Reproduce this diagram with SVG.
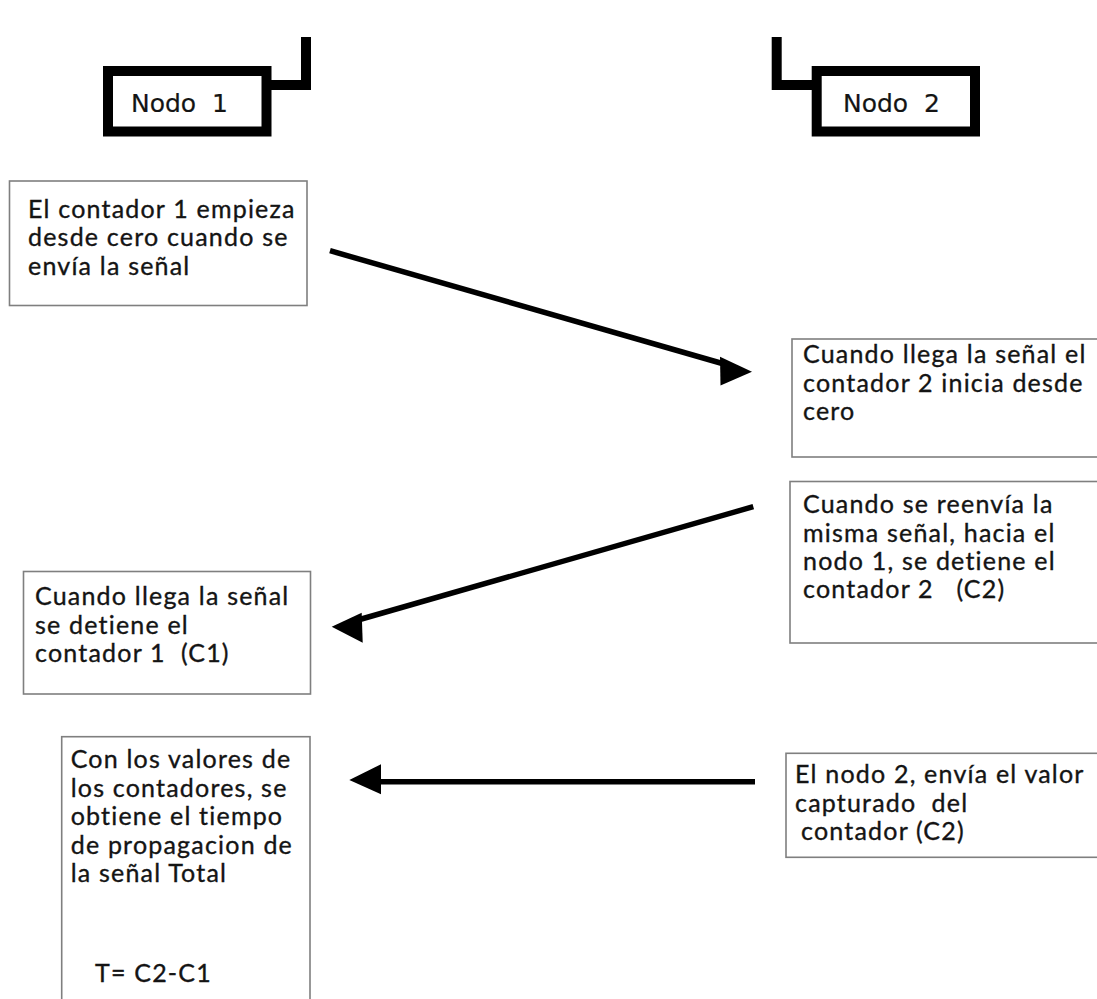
<svg xmlns="http://www.w3.org/2000/svg" width="1097" height="999" viewBox="0 0 1097 999">
  <style>
    .bg { fill: #ffffff; }
    .box { fill: #ffffff; stroke: #7f7f7f; stroke-width: 1.6; }
    .node { fill: #ffffff; stroke: #000000; stroke-width: 10; }
    .antenna { fill: none; stroke: #000000; stroke-width: 10; stroke-linejoin: miter; }
    .label { font-family: "Lato", "Open Sans", sans-serif; font-size: 25px; letter-spacing: 1.2px; fill: #141414; stroke: #141414; stroke-width: 0.35; white-space: pre; }
    .nodelabel { font-family: "DejaVu Sans", "Liberation Sans", sans-serif; font-size: 25px; fill: #141414; stroke: #141414; stroke-width: 0.2; white-space: pre; }
    .wire { fill: none; stroke: #000000; stroke-width: 5.5; stroke-linecap: butt; }
    .head { fill: #000000; stroke: none; }
  </style>
  <rect class="bg" x="0" y="0" width="1097" height="999"/>

  <!-- Nodo 1 with antenna -->
  <g id="nodo1">
    <path class="antenna" d="M 266 85 H 306 V 37"/>
    <rect class="node" x="108" y="71" width="158.5" height="60.5"/>
    <text class="nodelabel" x="131" y="112" xml:space="preserve">Nodo  1</text>
  </g>

  <!-- Nodo 2 with antenna -->
  <g id="nodo2">
    <path class="antenna" d="M 817 85 H 776.7 V 37"/>
    <rect class="node" x="816.7" y="71" width="158.3" height="60.5"/>
    <text class="nodelabel" x="843" y="112" xml:space="preserve">Nodo  2</text>
  </g>

  <!-- Step: counter 1 starts -->
  <g id="inicio-c1">
    <rect class="box" x="9.5" y="181" width="297.5" height="124.5"/>
    <text class="label" x="28" y="217.5">El contador 1 empieza</text>
    <text class="label" x="28" y="246">desde cero cuando se</text>
    <text class="label" x="28" y="274.5">envía la señal</text>
  </g>

  <!-- Step: counter 2 starts -->
  <g id="inicio-c2">
    <rect class="box" x="792" y="339" width="310" height="118"/>
    <text class="label" x="803" y="363">Cuando llega la señal el</text>
    <text class="label" x="803" y="391.5">contador 2 inicia desde</text>
    <text class="label" x="803" y="420">cero</text>
  </g>

  <!-- Step: counter 2 stops, signal resent -->
  <g id="fin-c2">
    <rect class="box" x="790" y="481.5" width="312" height="161.5"/>
    <text class="label" x="803" y="513">Cuando se reenvía la</text>
    <text class="label" x="803" y="541.5">misma señal, hacia el</text>
    <text class="label" x="803" y="570">nodo 1, se detiene el</text>
    <text class="label" x="803" y="598" xml:space="preserve">contador 2   (C2)</text>
  </g>

  <!-- Step: counter 1 stops -->
  <g id="fin-c1">
    <rect class="box" x="23.5" y="571.5" width="287" height="122.5"/>
    <text class="label" x="35" y="605">Cuando llega la señal</text>
    <text class="label" x="35" y="633.5">se detiene el</text>
    <text class="label" x="35" y="662" xml:space="preserve">contador 1  (C1)</text>
  </g>

  <!-- Result: total propagation time -->
  <g id="resultado">
    <rect class="box" x="61.7" y="736.7" width="248.3" height="280"/>
    <text class="label" x="70.7" y="768">Con los valores de</text>
    <text class="label" x="70.7" y="796.5">los contadores, se</text>
    <text class="label" x="70.7" y="825">obtiene el tiempo</text>
    <text class="label" x="70.7" y="853.5">de propagacion de</text>
    <text class="label" x="70.7" y="882">la señal Total</text>
    <text class="label" x="95" y="982">T= C2-C1</text>
  </g>

  <!-- Step: node 2 sends captured value -->
  <g id="envio-c2">
    <rect class="box" x="786" y="753.3" width="316" height="104"/>
    <text class="label" x="795" y="783">El nodo 2, envía el valor</text>
    <text class="label" x="795" y="811.5" xml:space="preserve">capturado  del</text>
    <text class="label" x="801" y="840">contador (C2)</text>
  </g>

  <!-- Signal connectors -->
  <g id="connectors">
    <line class="wire" x1="330" y1="250.7" x2="724" y2="364"/>
    <polygon class="head" points="720,356.7 752,371.7 720.5,385.5"/>

    <line class="wire" x1="753.3" y1="506.7" x2="358" y2="620"/>
    <polygon class="head" points="361.7,612.7 331.7,626.7 362.7,642.7"/>

    <line class="wire" x1="755" y1="781.7" x2="378" y2="781.7"/>
    <polygon class="head" points="381,764.3 349.3,780 381,794.3"/>
  </g>
</svg>
